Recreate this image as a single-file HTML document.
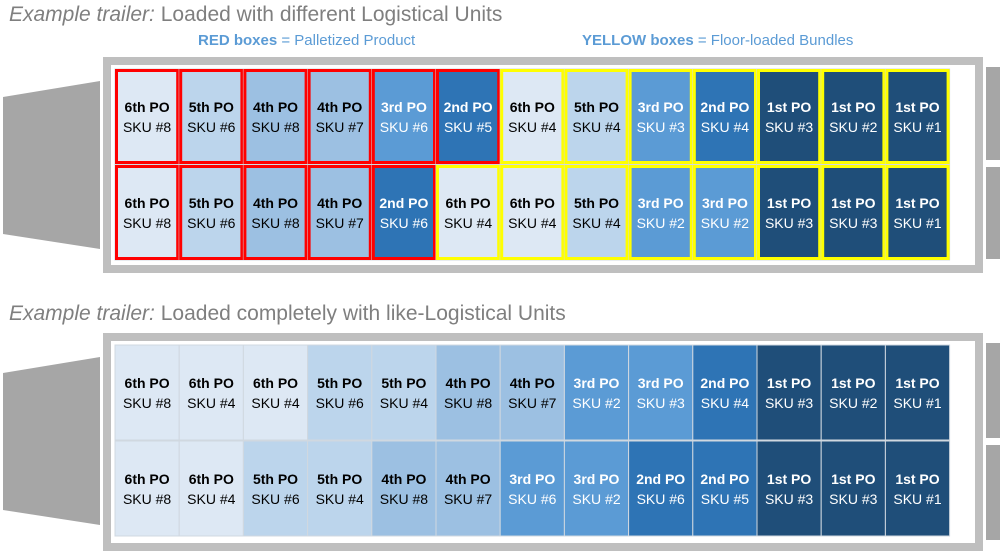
<!DOCTYPE html>
<html><head><meta charset="utf-8"><style>
html,body{margin:0;padding:0;background:#fff;width:1000px;height:556px;overflow:hidden}
svg{display:block;font-family:"Liberation Sans",sans-serif}
</style></head><body>
<svg width="1000" height="556" viewBox="0 0 1000 556" xmlns="http://www.w3.org/2000/svg">
<text x="9" y="21" font-size="21" fill="#7f7f7f"><tspan font-style="italic">Example trailer:</tspan> Loaded with different Logistical Units</text>
<text x="198" y="45" font-size="15" fill="#5b9bd5"><tspan font-weight="bold">RED boxes</tspan> = Palletized Product</text>
<text x="582" y="45" font-size="15" fill="#5b9bd5"><tspan font-weight="bold">YELLOW boxes</tspan> = Floor-loaded Bundles</text>
<text x="9" y="320" font-size="21" fill="#7f7f7f"><tspan font-style="italic">Example trailer:</tspan> Loaded completely with like-Logistical Units</text>

<polygon points="3,97 100,81 100,249 3,234" fill="#a6a6a6"/>
<rect x="107" y="61" width="872" height="208" fill="#fff" stroke="#bfbfbf" stroke-width="8"/>
<rect x="986" y="67" width="14" height="93" fill="#a6a6a6"/>
<rect x="986" y="167" width="14" height="92" fill="#a6a6a6"/>
<polygon points="3,373 100,357 100,525 3,510" fill="#a6a6a6"/>
<rect x="107" y="337" width="872" height="210" fill="#fff" stroke="#bfbfbf" stroke-width="8"/>
<rect x="986" y="343" width="14" height="95" fill="#a6a6a6"/>
<rect x="986" y="445" width="14" height="95" fill="#a6a6a6"/>
<g id="cells"></g>
</svg>
<script>
var C={6:"#dde8f4",5:"#bcd5ec",4:"#9cc0e2",3:"#5b9bd5",2:"#2e74b5",1:"#1f4e79"};
var N={6:"6th",5:"5th",4:"4th",3:"3rd",2:"2nd",1:"1st"};
var rows=[
 [69,[[6,8],[5,6],[4,8],[4,7],[3,6],[2,5],[6,4],[5,4],[3,3],[2,4],[1,3],[1,2],[1,1]],5],
 [165,[[6,8],[5,6],[4,8],[4,7],[2,6],[6,4],[6,4],[5,4],[3,2],[3,2],[1,3],[1,3],[1,1]],4],
 [345,[[6,8],[6,4],[6,4],[5,6],[5,4],[4,8],[4,7],[3,2],[3,3],[2,4],[1,3],[1,2],[1,1]],-1],
 [441,[[6,8],[6,4],[5,6],[5,4],[4,8],[4,7],[3,6],[3,2],[2,6],[2,5],[1,3],[1,3],[1,1]],-1]
];
var g=document.getElementById("cells"),s="",w=64.2,h=95;
rows.forEach(function(r){
 r[1].forEach(function(c,i){
  var x=115+i*w,y=r[0],fill=C[c[0]],tc=c[0]<=3?"#fff":"#000";
  s+='<rect x="'+x+'" y="'+y+'" width="'+w+'" height="'+h+'" fill="'+fill+'" stroke="#d0d8e0" stroke-width="1"/>';
  if(r[2]>=0){var col=i<=r[2]?"#ff0000":"#ffff00";
   s+='<rect x="'+(x+1.5)+'" y="'+(y+1.5)+'" width="'+(w-3)+'" height="'+(h-3)+'" fill="none" stroke="'+col+'" stroke-width="3"/>';}
  var cx=x+w/2;
  s+='<text x="'+cx+'" y="'+(y+43)+'" font-size="14" font-weight="bold" text-anchor="middle" fill="'+tc+'">'+N[c[0]]+' PO</text>';
  s+='<text x="'+cx+'" y="'+(y+63)+'" font-size="14" text-anchor="middle" fill="'+tc+'">SKU #'+c[1]+'</text>';
 });
});
g.innerHTML=s;
</script>
</body></html>
